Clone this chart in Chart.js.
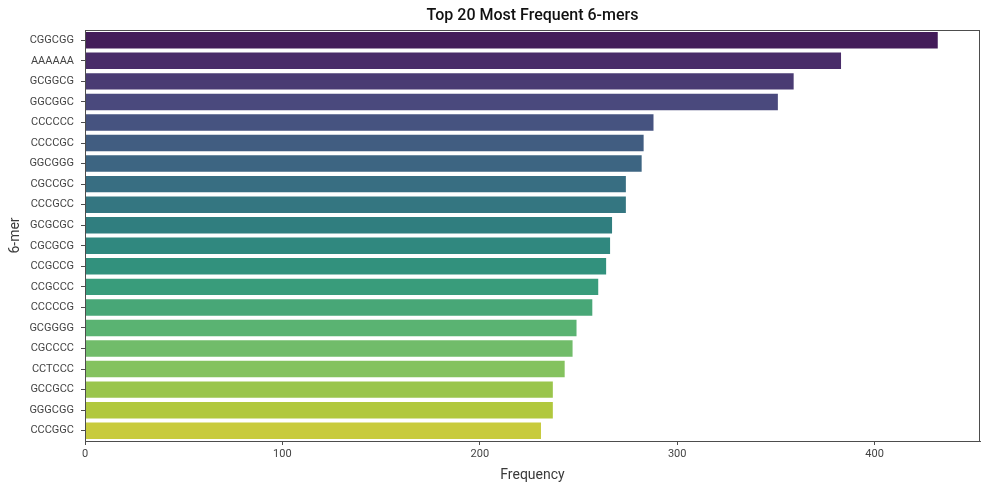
<!DOCTYPE html>
<html>
<head>
<meta charset="utf-8">
<script src="https://cdn.jsdelivr.net/npm/chart.js@4.4.1/dist/chart.umd.min.js"></script>
<style>
  html, body { margin: 0; padding: 0; background: #fff; }
  #wrap { width: 989px; height: 490px; }
</style>
</head>
<body>
<div id="wrap"><canvas id="chartKmers" width="989" height="490"></canvas></div>
<script>
// k-mer labels, top to bottom
const kmers = [
  "CGGCGG", "AAAAAA", "GCGGCG", "GGCGGC", "CCCCCC",
  "CCCCGC", "GGCGGG", "CGCCGC", "CCCGCC", "GCGCGC",
  "CGCGCG", "CCGCCG", "CCGCCC", "CCCCCG", "GCGGGG",
  "CGCCCC", "CCTCCC", "GCCGCC", "GGGCGG", "CCCGGC"
];
// counts
const frecuencias = [
  432, 383, 359, 351, 288,
  283, 282, 274, 274, 267,
  266, 264, 260, 257, 249,
  247, 243, 237, 237, 231
];
const xTicks = [0, 100, 200, 300, 400];
const xMax = 453.4;

/* ===========================================
        COLORES: viridis (desaturado 0.75)
=========================================== */
const viridisStops = [
  "#440154", "#482475", "#414487", "#355f8d", "#2a788e", "#21918c",
  "#22a884", "#44bf70", "#7ad151", "#bddf26", "#fde725"
];

function hexToRgb(h) {
  return [1, 3, 5].map(i => parseInt(h.slice(i, i + 2), 16));
}

function viridis(t) {
  const pos = t * (viridisStops.length - 1);
  const i = Math.min(Math.floor(pos), viridisStops.length - 2);
  const f = pos - i;
  const a = hexToRgb(viridisStops[i]);
  const b = hexToRgb(viridisStops[i + 1]);
  return a.map((v, k) => v + (b[k] - v) * f);
}

function desaturar([r, g, b], prop) {
  r /= 255; g /= 255; b /= 255;
  const max = Math.max(r, g, b), min = Math.min(r, g, b);
  const l = (max + min) / 2;
  const d = max - min;
  if (d === 0) return [r, g, b].map(v => Math.round(v * 255));
  let s = l > 0.5 ? d / (2 - max - min) : d / (max + min);
  let h;
  if (max === r) h = ((g - b) / d + (g < b ? 6 : 0));
  else if (max === g) h = (b - r) / d + 2;
  else h = (r - g) / d + 4;
  h /= 6;
  s *= prop;
  const q = l < 0.5 ? l * (1 + s) : l + s - l * s;
  const p = 2 * l - q;
  const hue = t => {
    if (t < 0) t += 1;
    if (t > 1) t -= 1;
    if (t < 1 / 6) return p + (q - p) * 6 * t;
    if (t < 1 / 2) return q;
    if (t < 2 / 3) return p + (q - p) * (2 / 3 - t) * 6;
    return p;
  };
  return [hue(h + 1 / 3), hue(h), hue(h - 1 / 3)].map(v => Math.round(v * 255));
}

const colores = kmers.map((_, i) => {
  const [r, g, b] = desaturar(viridis((i + 1) / (kmers.length + 1)), 0.75);
  return `rgb(${r},${g},${b})`;
});

/* ===========================================
            MARCO (spines arriba/derecha)
=========================================== */
const marco = {
  id: "marco",
  afterDraw(chart) {
    const { ctx, chartArea: a } = chart;
    ctx.save();
    ctx.strokeStyle = "#4d4d4d";
    ctx.lineWidth = 1;
    ctx.strokeRect(a.left + 0.5, a.top + 0.5, a.right - a.left - 1, a.bottom - a.top);
    ctx.restore();
  }
};

/* ===========================================
                GRÁFICA
=========================================== */
Chart.defaults.font.family = "Roboto, 'DejaVu Sans', sans-serif";

new Chart(document.getElementById("chartKmers"), {
  type: "bar",
  data: {
    labels: kmers,
    datasets: [{
      label: "Frequency",
      data: frecuencias,
      backgroundColor: colores,
      borderWidth: 0,
      barPercentage: 0.8,
      categoryPercentage: 1.0
    }]
  },
  options: {
    indexAxis: "y",
    responsive: false,
    animation: false,
    devicePixelRatio: 1,
    layout: { padding: { left: 0, right: 9, top: 0, bottom: 0 } },
    plugins: {
      legend: { display: false },
      tooltip: { enabled: false }
    },
    scales: {
      // eje superior vacío: solo sirve para centrar el título sobre el área
      titulo: {
        type: "linear",
        axis: "x",
        position: "top",
        min: 0,
        max: xMax,
        afterFit(scale) { scale.height = 30; },
        grid: { display: false },
        border: { display: false },
        ticks: { display: false },
        title: {
          display: true,
          text: "Top 20 Most Frequent 6-mers",
          color: "#111",
          font: { size: 16, weight: "500" },
          padding: { top: 6, bottom: 0 }
        }
      },
      x: {
        type: "linear",
        min: 0,
        max: xMax,
        afterBuildTicks(scale) {
          scale.ticks = xTicks.map(v => ({ value: v }));
        },
        afterFit(scale) { scale.height = 49; },
        grid: { display: true, drawOnChartArea: false, drawTicks: true, tickLength: 4, color: "#4d4d4d" },
        border: { display: true, color: "#4d4d4d", width: 1 },
        ticks: { color: "#444", font: { size: 11 }, padding: 3 },
        title: {
          display: true,
          text: "Frequency",
          color: "#3a3a3a",
          font: { size: 14, weight: "normal" },
          padding: { top: 0, bottom: 6 }
        }
      },
      y: {
        afterFit(scale) { scale.width = 85; },
        grid: { display: true, offset: false, drawOnChartArea: false, drawTicks: true, tickLength: 4, color: "#4d4d4d" },
        border: { display: true, color: "#4d4d4d", width: 1 },
        ticks: { color: "#444", font: { size: 11 }, padding: 7 },
        title: {
          display: true,
          text: "6-mer",
          color: "#3a3a3a",
          font: { size: 14, weight: "normal" },
          padding: { top: 7, bottom: 0 }
        }
      }
    }
  },
  plugins: [marco]
});
</script>
</body>
</html>
